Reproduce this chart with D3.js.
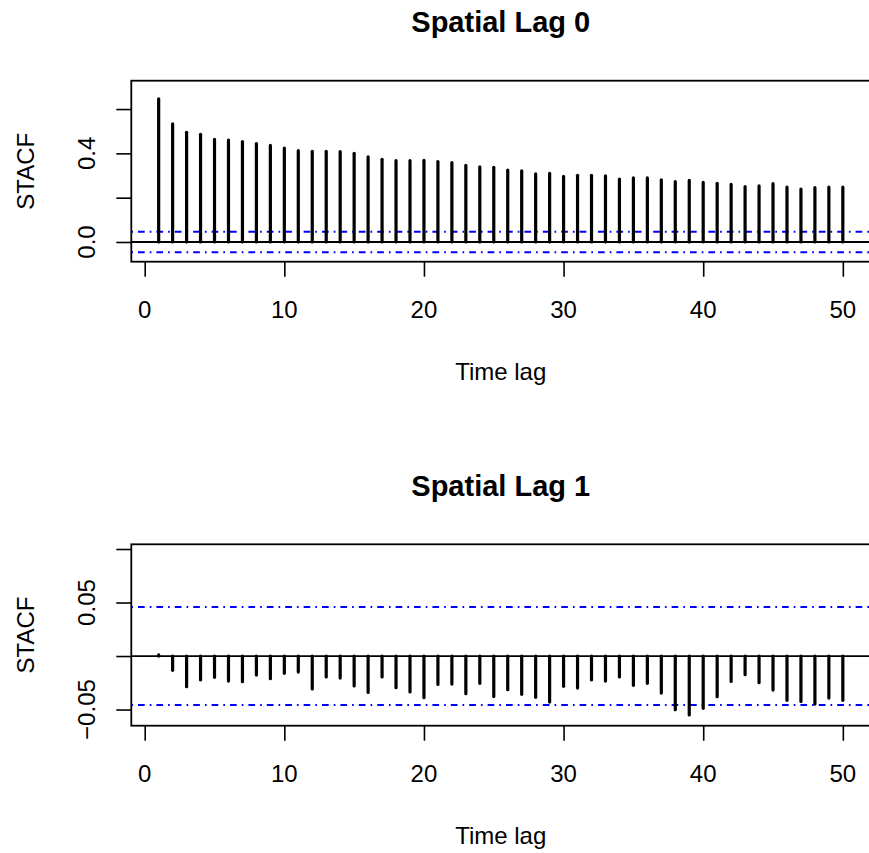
<!DOCTYPE html>
<html>
<head>
<meta charset="utf-8">
<script src="https://cdn.jsdelivr.net/npm/d3@7"></script>
<style>
  html, body { margin: 0; padding: 0; background: #fff; }
  svg { display: block; font-family: "Liberation Sans", Arial, Helvetica, sans-serif; }
</style>
</head>
<body>
<svg id="chart" width="869" height="853"></svg>
<script>
// Time lags shown on the x axis
const lags = d3.range(1, 51);

// Space-time autocorrelation, spatial lag 0
const stacf0 = [
  0.646, 0.533, 0.495, 0.486, 0.463, 0.460, 0.453, 0.444, 0.436, 0.424,
  0.412, 0.409, 0.409, 0.408, 0.400, 0.384, 0.373, 0.367, 0.367, 0.369,
  0.363, 0.358, 0.346, 0.339, 0.337, 0.325, 0.321, 0.308, 0.310, 0.296,
  0.301, 0.301, 0.299, 0.284, 0.290, 0.289, 0.281, 0.272, 0.278, 0.269,
  0.265, 0.260, 0.250, 0.253, 0.263, 0.248, 0.239, 0.245, 0.248, 0.248
];

// Space-time autocorrelation, spatial lag 1
const stacf1 = [
  0.0010, -0.0134, -0.0287, -0.0224, -0.0199, -0.0234, -0.0240, -0.0178, -0.0212, -0.0162,
  -0.0150, -0.0308, -0.0196, -0.0206, -0.0280, -0.0340, -0.0196, -0.0296, -0.0336, -0.0389,
  -0.0265, -0.0262, -0.0352, -0.0255, -0.0379, -0.0315, -0.0358, -0.0386, -0.0430, -0.0283,
  -0.0299, -0.0224, -0.0234, -0.0196, -0.0274, -0.0255, -0.0346, -0.0502, -0.0551, -0.0489,
  -0.0380, -0.0237, -0.0174, -0.0249, -0.0318, -0.0414, -0.0424, -0.0449, -0.0393, -0.0414
];

// Approximate significance bounds
const ciBound = 0.0458;

// Axis ticks and labels
const xTicks = [0, 10, 20, 30, 40, 50];
const yTicks0 = [0.0, 0.2, 0.4, 0.6];
const yLabels0 = [0.0, 0.4];
const yTicks1 = [-0.05, 0.0, 0.05, 0.10];
const yLabels1 = [-0.05, 0.05];

const titles = ["Spatial Lag 0", "Spatial Lag 1"];
const xLabel = "Time lag";
const yLabel = "STACF";

const svg = d3.select("#chart");

const panels = [
  { title: titles[0], values: stacf0, domain: [-0.089, 0.728], ticks: yTicks0, labels: yLabels0,
    fmt: d => d3.format(".1f")(d), top: 80.7, bottom: 261.7 },
  { title: titles[1], values: stacf1, domain: [-0.0651, 0.1044], ticks: yTicks1, labels: yLabels1,
    fmt: d => d3.format(".2f")(d).replace("-", "\u2212"), top: 544.3, bottom: 725.7 }
];

const left = 131.3, right = 870.2;
const x = d3.scaleLinear().domain([-0.96, 51.96]).range([left, right]);
const tickLen = 15;

panels.forEach(p => {
  const y = d3.scaleLinear().domain(p.domain).range([p.bottom, p.top]);
  const g = svg.append("g");

  // dashed confidence bounds
  [ciBound, -ciBound].forEach(v => {
    g.append("line")
      .attr("x1", left).attr("x2", right)
      .attr("y1", y(v)).attr("y2", y(v))
      .attr("stroke", "#0000ff").attr("stroke-width", 2)
      .attr("stroke-dasharray", "1.7,5,6.7,5");
  });

  // zero reference line
  g.append("line")
    .attr("x1", left).attr("x2", right)
    .attr("y1", y(0)).attr("y2", y(0))
    .attr("stroke", "#000").attr("stroke-width", 1.8);

  // autocorrelation spikes
  g.selectAll("line.spike")
    .data(p.values)
    .join("line")
    .attr("class", "spike")
    .attr("x1", (d, i) => x(lags[i])).attr("x2", (d, i) => x(lags[i]))
    .attr("y1", y(0)).attr("y2", d => y(d))
    .attr("stroke", "#000").attr("stroke-width", 3.2)
    .attr("stroke-linecap", "round");

  // plot frame
  g.append("rect")
    .attr("x", left).attr("y", p.top)
    .attr("width", right - left).attr("height", p.bottom - p.top)
    .attr("fill", "none").attr("stroke", "#000").attr("stroke-width", 1.8);

  // x axis
  const xAxis = d3.axisBottom(x).tickValues(xTicks).tickSize(tickLen).tickPadding(0).tickFormat("");
  const gx = g.append("g").attr("transform", `translate(0,${p.bottom})`).call(xAxis);
  gx.select(".domain").remove();
  gx.selectAll(".tick line").attr("stroke", "#000").attr("stroke-width", 1.6);
  g.selectAll("text.xt")
    .data(xTicks)
    .join("text")
    .attr("class", "xt")
    .attr("x", d => x(d)).attr("y", p.bottom + 56.3)
    .attr("text-anchor", "middle")
    .attr("font-size", 24)
    .text(d => d);

  // y axis
  const yAxis = d3.axisLeft(y).tickValues(p.ticks).tickSize(tickLen).tickFormat("");
  const gy = g.append("g").attr("transform", `translate(${left},0)`).call(yAxis);
  gy.select(".domain").remove();
  gy.selectAll(".tick line").attr("stroke", "#000").attr("stroke-width", 1.6);
  g.selectAll("text.yt")
    .data(p.labels)
    .join("text")
    .attr("class", "yt")
    .attr("transform", d => `translate(95,${y(d)}) rotate(-90)`)
    .attr("text-anchor", "middle")
    .attr("font-size", 24)
    .text(p.fmt);

  // titles and axis labels
  const cx = (left + right) / 2;
  g.append("text")
    .attr("x", cx).attr("y", p.top - 48.7)
    .attr("text-anchor", "middle")
    .attr("font-size", 29).attr("font-weight", "bold")
    .text(p.title);
  g.append("text")
    .attr("x", cx).attr("y", p.bottom + 118.5)
    .attr("text-anchor", "middle")
    .attr("font-size", 24)
    .text(xLabel);
  g.append("text")
    .attr("transform", `translate(33.5,${(p.top + p.bottom) / 2}) rotate(-90)`)
    .attr("text-anchor", "middle")
    .attr("font-size", 24)
    .text(yLabel);
});
</script>
</body>
</html>
